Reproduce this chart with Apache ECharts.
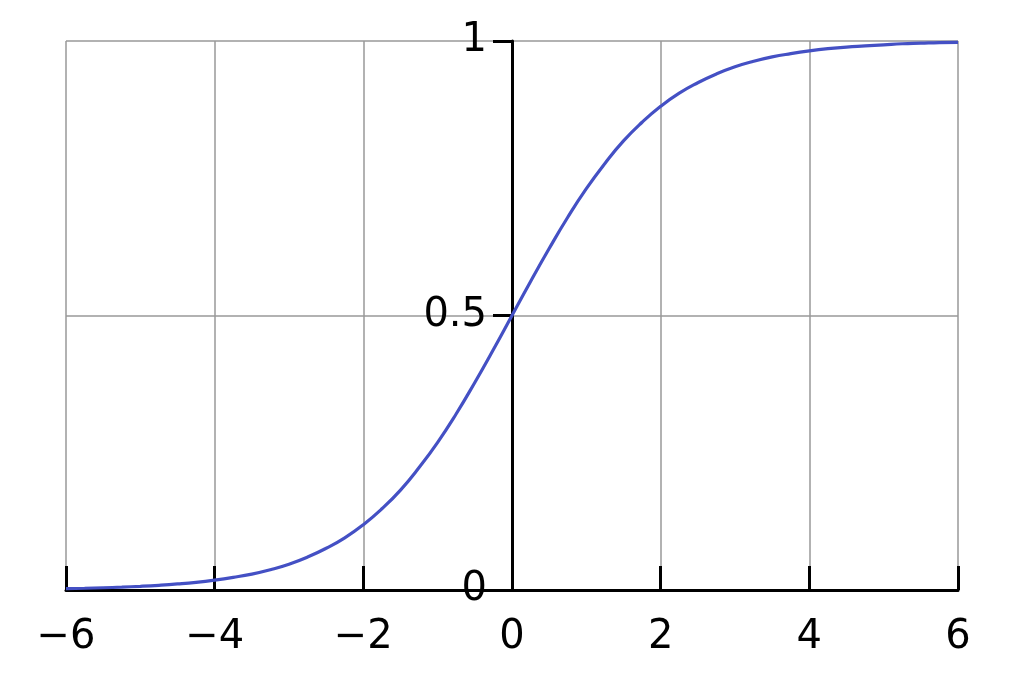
<!DOCTYPE html>
<html>
<head>
<meta charset="utf-8">
<style>html,body{margin:0;padding:0;background:#fff;}#c{width:1024px;height:683px;}</style>
<script src="https://cdn.jsdelivr.net/npm/echarts@6/dist/echarts.min.js"></script>
</head>
<body>
<div id="c"></div>
<script>
// x positions and curve values
const xValues = [-6, -5.75, -5.5, -5.25, -5, -4.75, -4.5, -4.25, -4, -3.75, -3.5, -3.25, -3, -2.75, -2.5, -2.25, -2, -1.75, -1.5, -1.25, -1, -0.75, -0.5, -0.25, 0,
  0.25, 0.5, 0.75, 1, 1.25, 1.5, 1.75, 2, 2.25, 2.5, 2.75, 3, 3.25, 3.5, 3.75, 4, 4.25, 4.5, 4.75, 5, 5.25, 5.5, 5.75, 6];
const yValues = [0.0025, 0.0032, 0.0041, 0.0052, 0.0067, 0.0086, 0.011, 0.014, 0.018, 0.023, 0.029, 0.037, 0.047, 0.060, 0.076, 0.095, 0.119, 0.148, 0.182, 0.223, 0.269, 0.321, 0.378, 0.438, 0.5,
  0.562, 0.622, 0.679, 0.731, 0.777, 0.818, 0.852, 0.881, 0.905, 0.924, 0.940, 0.953, 0.963, 0.971, 0.977, 0.982, 0.986, 0.989, 0.991, 0.993, 0.995, 0.996, 0.997, 0.9975];
const xTicks = [-6, -4, -2, 0, 2, 4, 6];
const yTicks = [0, 0.5, 1];

const chart = echarts.init(document.getElementById('c'), null, {renderer: 'canvas'});
const font = 'DejaVu Sans';
const gridLeft = 66, gridRight = 66, W = 1024;
const plotW = W - gridLeft - gridRight;
const xMin = xTicks[0], xMax = xTicks[xTicks.length - 1];
const zeroOffset = plotW * (0 - xMin) / (xMax - xMin);
chart.setOption({
  animation: false,
  backgroundColor: '#ffffff',
  grid: {left: gridLeft, right: gridRight, top: 41, bottom: 93, containLabel: false, outerBoundsMode: 'none'},
  xAxis: {
    type: 'value', min: xMin, max: xMax, interval: 2,
    axisLine: {onZero: false, lineStyle: {color: '#000', width: 3}},
    axisTick: {inside: true, length: 24, lineStyle: {color: '#000', width: 3}},
    axisLabel: {
      margin: 28, fontFamily: font, fontSize: 40, color: '#000',
      formatter: v => String(v).replace('-', '\u2212')
    },
    splitLine: {show: true, lineStyle: {color: '#999', width: 1.5}}
  },
  yAxis: {
    type: 'value', position: 'left', offset: -zeroOffset,
    min: yTicks[0], max: yTicks[yTicks.length - 1], interval: 0.5,
    axisLine: {onZero: false, lineStyle: {color: '#000', width: 3}},
    axisTick: {inside: false, length: 19, lineStyle: {color: '#000', width: 3}},
    axisLabel: {
      margin: 25, fontFamily: font, fontSize: 40, color: '#000',
      padding: [0, 0, 6, 0],
      formatter: v => String(v)
    },
    splitLine: {show: true, lineStyle: {color: '#999', width: 1.5}}
  },
  series: [{
    type: 'line',
    data: xValues.map((x, i) => [x, yValues[i]]),
    smooth: true,
    showSymbol: false,
    lineStyle: {color: '#4450c4', width: 3.2},
    z: 5
  }]
});
</script>
</body>
</html>
